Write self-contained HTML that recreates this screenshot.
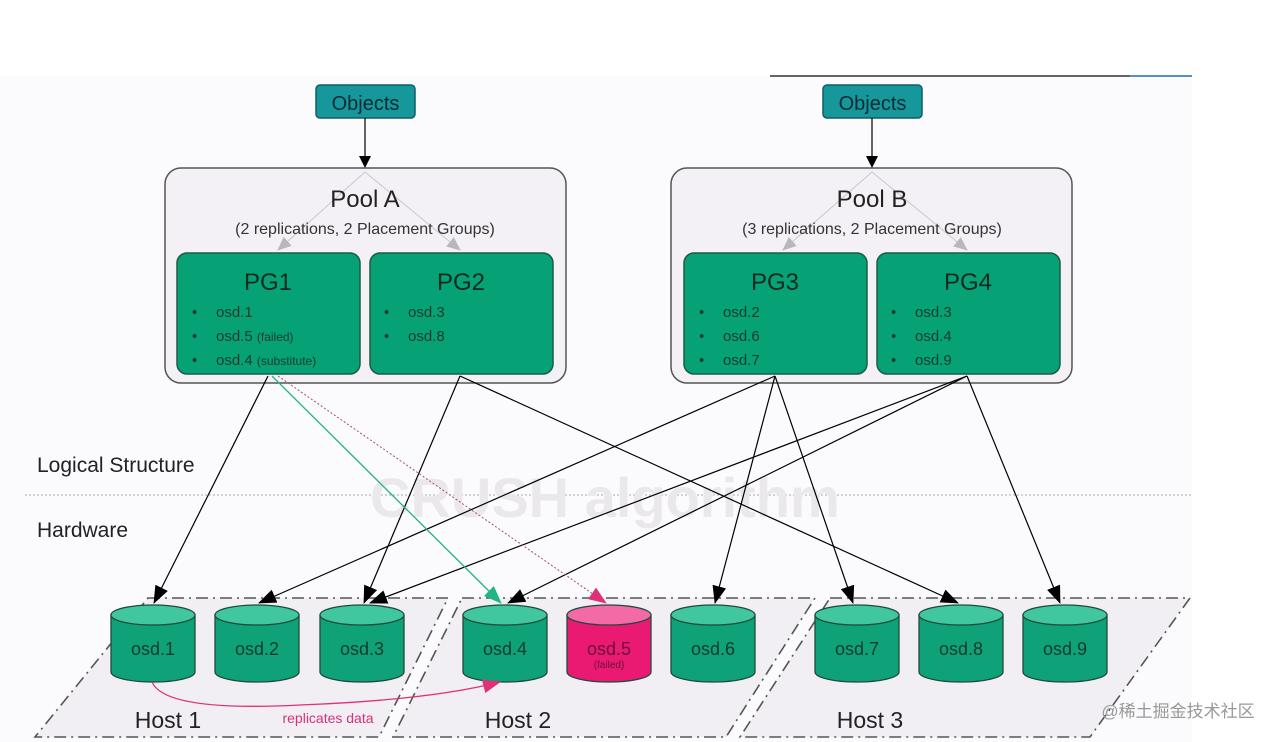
<!DOCTYPE html>
<html><head><meta charset="utf-8"><style>
html,body{margin:0;padding:0;background:#fff;}
svg{display:block;font-family:"Liberation Sans","Noto Sans CJK SC",sans-serif;}
</style></head><body>
<svg width="1280" height="742" viewBox="0 0 1280 742" xmlns="http://www.w3.org/2000/svg">
<defs>
<marker id="ab" markerWidth="12" markerHeight="12" refX="11" refY="6" orient="auto" markerUnits="userSpaceOnUse" viewBox="0 0 12 12"><path d="M0,0 L12,6 L0,12 z" fill="#000"/></marker>
<marker id="abig" markerWidth="18" markerHeight="14" refX="17" refY="7" orient="auto" markerUnits="userSpaceOnUse" viewBox="0 0 18 14"><path d="M0,0 L18,7 L0,14 z" fill="#000"/></marker>
<marker id="ag" markerWidth="18" markerHeight="14" refX="17" refY="7" orient="auto" markerUnits="userSpaceOnUse" viewBox="0 0 18 14"><path d="M0,0 L18,7 L0,14 z" fill="#1fb585"/></marker>
<marker id="ap" markerWidth="18" markerHeight="14" refX="17" refY="7" orient="auto" markerUnits="userSpaceOnUse" viewBox="0 0 18 14"><path d="M0,0 L18,7 L0,14 z" fill="#e0307a"/></marker>
<marker id="agr" markerWidth="14" markerHeight="12" refX="13" refY="6" orient="auto" markerUnits="userSpaceOnUse" viewBox="0 0 14 12"><path d="M0,0 L14,6 L0,12 z" fill="#b8b8bc"/></marker>
</defs>
<rect x="0" y="76" width="1192" height="666" fill="#fbfafc"/>
<line x1="770" y1="76" x2="1192" y2="76" stroke="#333" stroke-width="1.5"/>
<line x1="1130" y1="76" x2="1192" y2="76" stroke="#3b8ee0" stroke-width="1.5"/>

<g fill="#f1eff4" stroke="#555" stroke-width="1.6" stroke-dasharray="12,5,2,5">
<polygon points="148,598 448,598 379,737 35,737"/>
<polygon points="462,598 815,598 726,737 393,737"/>
<polygon points="830,598 1190,598 1090,737 740,737"/>
</g>

<line x1="25" y1="495" x2="1192" y2="495" stroke="#aaa" stroke-width="1" stroke-dasharray="2,2"/>
<text x="37" y="472" font-size="21" fill="#222">Logical Structure</text>
<text x="37" y="537" font-size="21" fill="#222">Hardware</text>
<text x="370" y="517" font-size="56" font-weight="bold" fill="#ebe8ec">CRUSH algorithm</text>

<rect x="316" y="85" width="99" height="33" rx="4" fill="#16979a" stroke="#0d5f66" stroke-width="1.5"/>
<text x="365.5" y="110" font-size="20" fill="#0c2a3a" text-anchor="middle">Objects</text>
<rect x="823" y="85" width="99" height="33" rx="4" fill="#16979a" stroke="#0d5f66" stroke-width="1.5"/>
<text x="872.5" y="110" font-size="20" fill="#0c2a3a" text-anchor="middle">Objects</text>
<line x1="365" y1="118" x2="365" y2="167" stroke="#000" stroke-width="1.2" marker-end="url(#ab)"/>
<line x1="872" y1="118" x2="872" y2="167" stroke="#000" stroke-width="1.2" marker-end="url(#ab)"/>

<rect x="165" y="168" width="401" height="215" rx="16" fill="#f3f1f5" stroke="#555" stroke-width="1.5"/>
<rect x="671" y="168" width="401" height="215" rx="16" fill="#f3f1f5" stroke="#555" stroke-width="1.5"/>
<g stroke="#c8c8cc" stroke-width="1" fill="none">
<line x1="365" y1="172" x2="278" y2="250" marker-end="url(#agr)"/>
<line x1="365" y1="172" x2="460" y2="250" marker-end="url(#agr)"/>
<line x1="872" y1="172" x2="783" y2="250" marker-end="url(#agr)"/>
<line x1="872" y1="172" x2="967" y2="250" marker-end="url(#agr)"/>
</g>
<text x="365" y="207" font-size="24" fill="#222" text-anchor="middle">Pool A</text>
<text x="365" y="234" font-size="16" fill="#333" text-anchor="middle">(2 replications, 2 Placement Groups)</text>
<text x="872" y="207" font-size="24" fill="#222" text-anchor="middle">Pool B</text>
<text x="872" y="234" font-size="16" fill="#333" text-anchor="middle">(3 replications, 2 Placement Groups)</text>

<g fill="#06a275" stroke="#1e5a48" stroke-width="1.5">
<rect x="177" y="253" width="183" height="121" rx="10"/>
<rect x="370" y="253" width="183" height="121" rx="10"/>
<rect x="684" y="253" width="183" height="121" rx="10"/>
<rect x="877" y="253" width="183" height="121" rx="10"/>
</g>
<g font-size="24" fill="#0f2a22" text-anchor="middle">
<text x="268" y="290">PG1</text><text x="461" y="290">PG2</text>
<text x="775" y="290">PG3</text><text x="968" y="290">PG4</text>
</g>
<g font-size="15" fill="#123a30">
<text x="192" y="317">•</text><text x="216" y="317">osd.1</text>
<text x="192" y="341">•</text><text x="216" y="341">osd.5 <tspan font-size="12">(failed)</tspan></text>
<text x="192" y="365">•</text><text x="216" y="365">osd.4 <tspan font-size="12">(substitute)</tspan></text>
<text x="384" y="317">•</text><text x="408" y="317">osd.3</text>
<text x="384" y="341">•</text><text x="408" y="341">osd.8</text>
<text x="699" y="317">•</text><text x="723" y="317">osd.2</text>
<text x="699" y="341">•</text><text x="723" y="341">osd.6</text>
<text x="699" y="365">•</text><text x="723" y="365">osd.7</text>
<text x="891" y="317">•</text><text x="915" y="317">osd.3</text>
<text x="891" y="341">•</text><text x="915" y="341">osd.4</text>
<text x="891" y="365">•</text><text x="915" y="365">osd.9</text>
</g>

<g stroke="#1e4a3c" stroke-width="1.3">
<path d="M111,615 V672 A42,10 0 0 0 195,672 V615" fill="#0fa279"/><ellipse cx="153" cy="615" rx="42" ry="10" fill="#40c7a0"/>
<path d="M215,615 V672 A42,10 0 0 0 299,672 V615" fill="#0fa279"/><ellipse cx="257" cy="615" rx="42" ry="10" fill="#40c7a0"/>
<path d="M320,615 V672 A42,10 0 0 0 404,672 V615" fill="#0fa279"/><ellipse cx="362" cy="615" rx="42" ry="10" fill="#40c7a0"/>
<path d="M463,615 V672 A42,10 0 0 0 547,672 V615" fill="#0fa279"/><ellipse cx="505" cy="615" rx="42" ry="10" fill="#40c7a0"/>
<path d="M567,615 V672 A42,10 0 0 0 651,672 V615" fill="#ea1a72"/><ellipse cx="609" cy="615" rx="42" ry="10" fill="#f36aa6"/>
<path d="M671,615 V672 A42,10 0 0 0 755,672 V615" fill="#0fa279"/><ellipse cx="713" cy="615" rx="42" ry="10" fill="#40c7a0"/>
<path d="M815,615 V672 A42,10 0 0 0 899,672 V615" fill="#0fa279"/><ellipse cx="857" cy="615" rx="42" ry="10" fill="#40c7a0"/>
<path d="M919,615 V672 A42,10 0 0 0 1003,672 V615" fill="#0fa279"/><ellipse cx="961" cy="615" rx="42" ry="10" fill="#40c7a0"/>
<path d="M1023,615 V672 A42,10 0 0 0 1107,672 V615" fill="#0fa279"/><ellipse cx="1065" cy="615" rx="42" ry="10" fill="#40c7a0"/>
</g>
<g font-size="18" fill="#123a30" text-anchor="middle">
<text x="153" y="655">osd.1</text><text x="257" y="655">osd.2</text><text x="362" y="655">osd.3</text>
<text x="505" y="655">osd.4</text><text x="609" y="655" fill="#6a1038">osd.5</text><text x="713" y="655">osd.6</text>
<text x="857" y="655">osd.7</text><text x="961" y="655">osd.8</text><text x="1065" y="655">osd.9</text>
</g>
<text x="609" y="668" font-size="10" fill="#6a1038" text-anchor="middle">(failed)</text>

<g font-size="23" fill="#222" text-anchor="middle">
<text x="168" y="728">Host 1</text><text x="518" y="728">Host 2</text><text x="870" y="728">Host 3</text>
</g>
<path d="M152,682 Q165,712 300,705 Q430,700 500,682" fill="none" stroke="#e0307a" stroke-width="1.3" marker-end="url(#ap)"/>
<text x="328" y="723" font-size="14" fill="#d9307a" text-anchor="middle">replicates data</text>
<text x="1178" y="717" font-size="17" fill="#999" text-anchor="middle">@稀土掘金技术社区</text>

<g stroke="#000" stroke-width="1.2" fill="none">
<line x1="268" y1="376" x2="154" y2="603" marker-end="url(#abig)"/>
<line x1="460" y1="376" x2="364" y2="603" marker-end="url(#abig)"/>
<line x1="460" y1="376" x2="958" y2="603" marker-end="url(#abig)"/>
<line x1="775" y1="376" x2="259" y2="603" marker-end="url(#abig)"/>
<line x1="775" y1="376" x2="715" y2="603" marker-end="url(#abig)"/>
<line x1="775" y1="376" x2="853" y2="603" marker-end="url(#abig)"/>
<line x1="967" y1="376" x2="370" y2="603" marker-end="url(#abig)"/>
<line x1="967" y1="376" x2="508" y2="603" marker-end="url(#abig)"/>
<line x1="967" y1="376" x2="1060" y2="603" marker-end="url(#abig)"/>
</g>
<line x1="272" y1="376" x2="501" y2="603" stroke="#1fb585" stroke-width="1.3" marker-end="url(#ag)"/>
<line x1="278" y1="376" x2="606" y2="603" stroke="#a0506a" stroke-width="1" stroke-dasharray="2,2" marker-end="url(#ap)"/>
</svg>
</body></html>
